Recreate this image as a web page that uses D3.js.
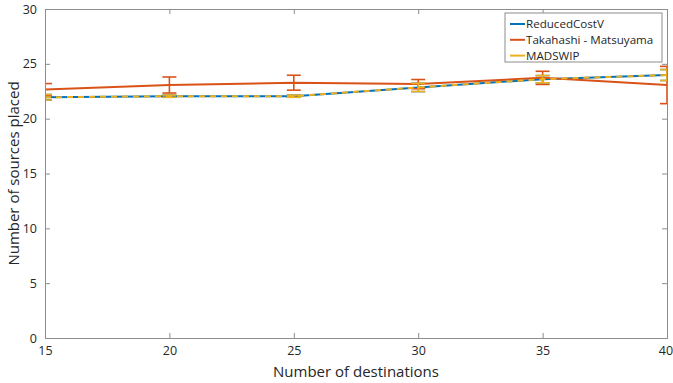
<!DOCTYPE html>
<html>
<head>
<meta charset="utf-8">
<script src="https://cdn.jsdelivr.net/npm/d3@7"></script>
<style>
  html, body { margin: 0; padding: 0; background: #fff; }
  svg { display: block; font-family: "Open Sans", "Noto Sans", sans-serif; }
</style>
</head>
<body>
<svg id="chart" width="673" height="383"></svg>
<script>
// Number of destinations (x) and sources placed (y) per method
const destinations = [15, 20, 25, 30, 35, 40];

const reducedCostV = [21.95, 22.05, 22.05, 22.85, 23.6, 23.98];
const reducedCostVErr = [0.25, 0.1, 0.1, 0.38, 0.33, 0.5];

const takahashi = [22.65, 23.07, 23.28, 23.15, 23.72, 23.07];
const takahashiErr = [0.55, 0.73, 0.68, 0.42, 0.6, 1.7];

const madswip = [21.95, 22.05, 22.05, 22.85, 23.6, 23.98];
const madswipErr = [0.25, 0.1, 0.1, 0.38, 0.33, 0.5];

const xTicks = [15, 20, 25, 30, 35, 40];
const yTicks = [0, 5, 10, 15, 20, 25, 30];

const seriesNames = ["ReducedCostV", "Takahashi - Matsuyama", "MADSWIP"];
const colors = ["#0072BD", "#D95319", "#EDB120"];

const svg = d3.select("#chart");
const m = { left: 45, right: 6, top: 9, bottom: 45 };
const W = 673, H = 383;
const x = d3.scaleLinear().domain([15, 40]).range([m.left, W - m.right]);
const y = d3.scaleLinear().domain([0, 30]).range([H - m.bottom, m.top]);

const axisColor = "#8c8c8c";
const textColor = "#262626";
const fontFamily = "'Open Sans', 'Noto Sans', sans-serif";

const plot = svg.append("g");

// Series: blue solid underneath, orange with error bars, yellow dashed on top
const line = d3.line().x((d, i) => x(destinations[i])).y(d => y(d));

function errorBars(vals, errs, color, width) {
  const g = plot.append("g").attr("stroke", color).attr("stroke-width", width).attr("fill", "none");
  const cap = 7;
  vals.forEach((v, i) => {
    const cx = x(destinations[i]);
    const y1 = y(v + errs[i]), y0 = y(v - errs[i]);
    g.append("line").attr("x1", cx).attr("x2", cx).attr("y1", y1).attr("y2", y0);
    g.append("line").attr("x1", cx - cap).attr("x2", cx + cap).attr("y1", y1).attr("y2", y1);
    g.append("line").attr("x1", cx - cap).attr("x2", cx + cap).attr("y1", y0).attr("y2", y0);
  });
}

svg.append("clipPath").attr("id", "clip")
  .append("rect").attr("x", m.left).attr("y", m.top)
  .attr("width", W - m.left - m.right).attr("height", H - m.top - m.bottom);
plot.attr("clip-path", "url(#clip)");

errorBars(reducedCostV, reducedCostVErr, colors[0], 1.5);
plot.append("path").datum(reducedCostV).attr("d", line)
  .attr("fill", "none").attr("stroke", colors[0]).attr("stroke-width", 2);

errorBars(takahashi, takahashiErr, colors[1], 1.6);
plot.append("path").datum(takahashi).attr("d", line)
  .attr("fill", "none").attr("stroke", colors[1]).attr("stroke-width", 2);

errorBars(madswip, madswipErr, colors[2], 1.6);
plot.append("path").datum(madswip).attr("d", line)
  .attr("fill", "none").attr("stroke", colors[2]).attr("stroke-width", 2)
  .attr("stroke-dasharray", "6,5");

// Axes (box with mirrored inward ticks)
const tickLen = 5;

const xBottom = d3.axisBottom(x).tickValues(xTicks).tickSize(-tickLen).tickPadding(8);
const xTop = d3.axisTop(x).tickValues(xTicks).tickSize(-tickLen).tickFormat("");
const yLeft = d3.axisLeft(y).tickValues(yTicks).tickSize(-tickLen).tickPadding(8);
const yRight = d3.axisRight(y).tickValues(yTicks).tickSize(-tickLen).tickFormat("");

function styleAxis(g) {
  g.select(".domain").attr("stroke", axisColor).attr("stroke-width", 1);
  g.selectAll(".tick line").attr("stroke", axisColor);
  g.selectAll(".tick text").attr("fill", textColor)
    .attr("font-family", fontFamily).attr("font-size", 12.5);
}

const xb = svg.append("g").attr("transform", `translate(0,${H - m.bottom})`).call(xBottom).call(styleAxis);
// keep the last label inside the window edge
xb.selectAll(".tick text").filter(d => d === 40).attr("dx", -1.5);
svg.append("g").attr("transform", `translate(0,${m.top})`).call(xTop).call(styleAxis);
svg.append("g").attr("transform", `translate(${m.left},0)`).call(yLeft).call(styleAxis);
svg.append("g").attr("transform", `translate(${W - m.right},0)`).call(yRight).call(styleAxis);

// Axis titles
svg.append("text")
  .attr("x", (m.left + W - m.right) / 2).attr("y", 377)
  .attr("text-anchor", "middle").attr("font-size", 15).attr("fill", textColor)
  .text("Number of destinations");
svg.append("text")
  .attr("transform", `translate(19,${(m.top + H - m.bottom) / 2}) rotate(-90)`)
  .attr("text-anchor", "middle").attr("font-size", 15).attr("fill", textColor)
  .text("Number of sources placed");

// Legend
const lg = svg.append("g").attr("transform", "translate(505,13)");
lg.append("rect").attr("width", 157).attr("height", 49)
  .attr("fill", "#fff").attr("stroke", axisColor).attr("stroke-width", 1);
seriesNames.forEach((name, i) => {
  const ry = 11 + i * 15.8;
  lg.append("line").attr("x1", 5).attr("x2", 20).attr("y1", ry).attr("y2", ry)
    .attr("stroke", colors[i]).attr("stroke-width", 2);
  lg.append("text").attr("x", 21).attr("y", ry + 4.2)
    .attr("font-size", 11.6).attr("fill", textColor).text(name);
});
</script>
</body>
</html>
